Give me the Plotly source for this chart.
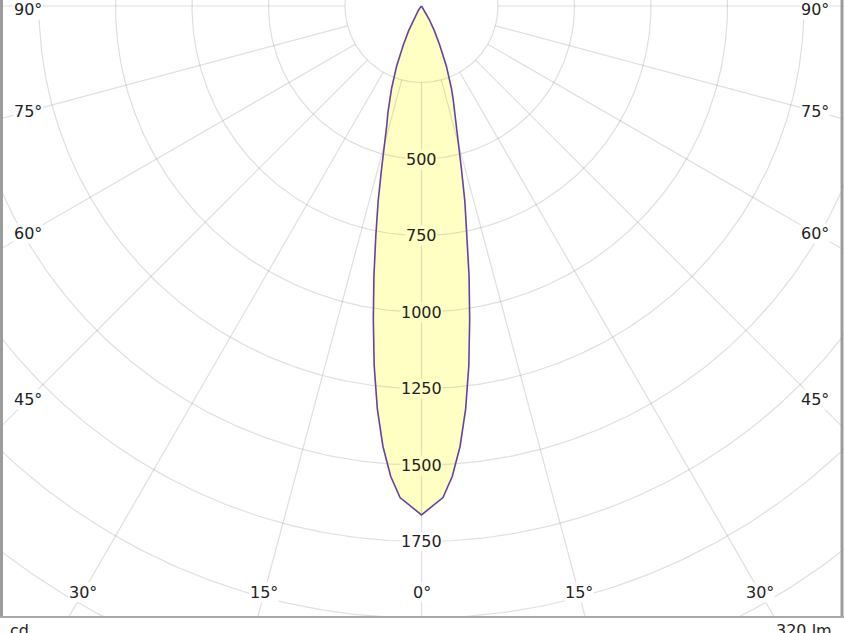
import numpy as np
import plotly.graph_objects as go

# ---- data ----
angles_deg = [0, 2.5, 3.75, 5, 6.25, 7.5, 8.75, 10, 11.25, 12.5, 13.75, 15, 16.25, 17.5, 18.75,
              20, 22.5, 25, 27.5, 30, 35, 40, 45, 50, 60, 70, 80, 90]
intensity_cd = [1663, 1608, 1540, 1445, 1325, 1185, 1035, 895, 765, 655, 550, 470, 405, 365, 322,
                285, 212, 140, 90, 50, 18, 6, 2, 0, 0, 0, 0, 0]
ring_values = [250, 500, 750, 1000, 1250, 1500, 1750, 2000, 2250, 2500]
ring_label_values = [500, 750, 1000, 1250, 1500, 1750]
angle_ticks = [0, 15, 30, 45, 60, 75, 90]
unit_text = "cd"
flux_text = "320 lm"

# ---- layout constants ----
W, H = 844, 633
PLOT_B = 617            # bottom of framed area (px)
CX, CY = 421.5, 6.0     # pole position (px)
S = 0.306               # px per cd

FILL = "#ffffc4"
GRID = "rgba(120,120,120,0.24)"
CURVE = "#6442a2"
TXT = "#222222"
FONT = "DejaVu Sans"

fig = go.Figure()

# photometric curve (mirrored C0/C180 halves)
th_full = [-a for a in reversed(angles_deg)] + angles_deg[1:]
i_full = list(reversed(intensity_cd)) + intensity_cd[1:]
th_r = np.radians(th_full)
cx = np.array(i_full) * np.sin(th_r)
cy = -np.array(i_full) * np.cos(th_r)

fig.add_trace(go.Scatter(x=cx, y=cy, mode="lines", fill="toself", fillcolor=FILL,
                         line=dict(width=0, color=FILL), hoverinfo="skip", showlegend=False))

# rings
t = np.linspace(0, 2 * np.pi, 721)
for r in ring_values:
    fig.add_trace(go.Scatter(x=r * np.cos(t), y=r * np.sin(t), mode="lines",
                             line=dict(color=GRID, width=1.2), hoverinfo="skip", showlegend=False))
# radial lines
r0, r1 = ring_values[0], 4000
for a in angle_ticks:
    for sgn in ([1] if a == 0 else [-1, 1]):
        ar = np.radians(sgn * a)
        fig.add_trace(go.Scatter(x=[r0 * np.sin(ar), r1 * np.sin(ar)],
                                 y=[-r0 * np.cos(ar), -r1 * np.cos(ar)], mode="lines",
                                 line=dict(color=GRID, width=1.2), hoverinfo="skip", showlegend=False))

# curve outline
fig.add_trace(go.Scatter(x=cx, y=cy, mode="lines", line=dict(color=CURVE, width=1.6),
                         hoverinfo="skip", showlegend=False))

annotations = []
peak = max(intensity_cd)
for v in ring_label_values:
    annotations.append(dict(x=0, y=-v, xref="x", yref="y", text=str(v), showarrow=False,
                            font=dict(family=FONT, size=16, color=TXT),
                            bgcolor=FILL if v < peak else "white", borderpad=0))

# angle labels
side_dx = (CX - 28) / S
bottom_dy = (592 - CY) / S
for a in angle_ticks:
    for sgn in ([1] if a == 0 else [-1, 1]):
        if a <= 30:
            yy = -bottom_dy
            xx = sgn * bottom_dy * np.tan(np.radians(a))
        else:
            xx = sgn * side_dx
            yy = -side_dx / np.tan(np.radians(a)) if a < 90 else 0.0
            yy = min(yy, -(9 - CY) / S)
        annotations.append(dict(x=xx, y=yy, xref="x", yref="y", text=f"{a}°", showarrow=False,
                                font=dict(family=FONT, size=16, color=TXT),
                                bgcolor="white", borderpad=0))

plot_h = PLOT_B
annotations.append(dict(x=8 / W, y=-(619 - PLOT_B) / plot_h, xref="paper", yref="paper",
                        text=unit_text, showarrow=False, xanchor="left", yanchor="top",
                        font=dict(family=FONT, size=16, color=TXT)))
annotations.append(dict(x=834 / W, y=-(619 - PLOT_B) / plot_h, xref="paper", yref="paper",
                        text=flux_text, showarrow=False, xanchor="right", yanchor="top",
                        font=dict(family=FONT, size=16, color=TXT)))

shapes = [
    dict(type="line", xref="paper", yref="paper", x0=1.5 / W, x1=1.5 / W, y0=0, y1=1.02,
         line=dict(color="#9c9c9c", width=3)),
    dict(type="line", xref="paper", yref="paper", x0=842 / W, x1=842 / W, y0=0, y1=1.02,
         line=dict(color="#9c9c9c", width=3)),
    dict(type="line", xref="paper", yref="paper", x0=0, x1=1, y0=0, y1=0,
         line=dict(color="#a8a8a8", width=2)),
]

fig.update_layout(
    width=W, height=H, autosize=False,
    margin=dict(l=0, r=0, t=0, b=H - PLOT_B, pad=0),
    paper_bgcolor="white", plot_bgcolor="white",
    xaxis=dict(range=[-CX / S, (W - CX) / S], visible=False, fixedrange=True),
    yaxis=dict(range=[-(PLOT_B - CY) / S, CY / S], visible=False, fixedrange=True),
    annotations=annotations, shapes=shapes, showlegend=False,
)

fig.write_html("out.html", config={"displayModeBar": False},
               post_script="document.body.style.margin='0';document.body.style.overflow='hidden';")
